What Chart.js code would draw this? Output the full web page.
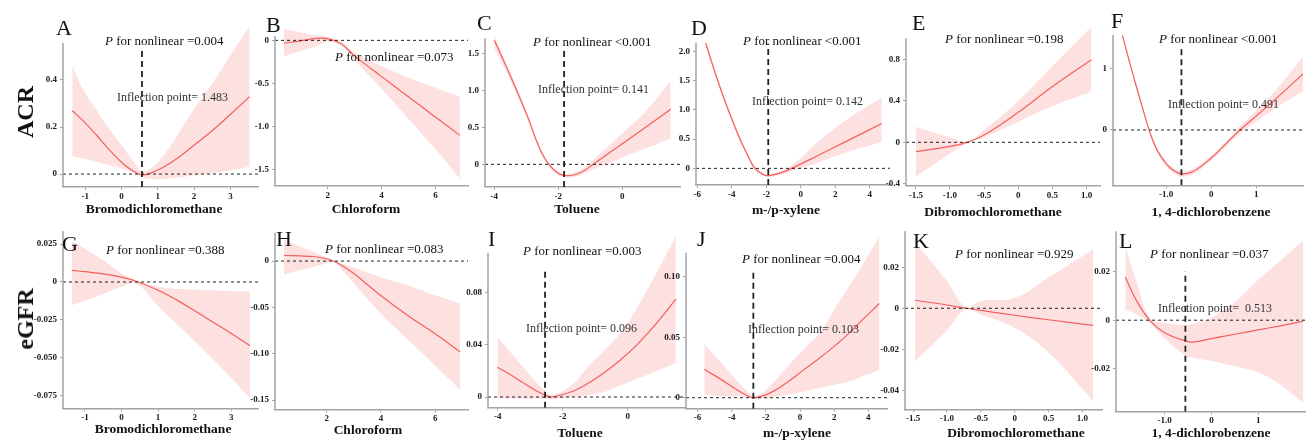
<!DOCTYPE html>
<html lang="en">
<head>
<meta charset="UTF-8">
<title>RCS curves for ACR and eGFR</title>
<style>
  body { margin: 0; background: #fff; width: 1313px; height: 442px; overflow: hidden; position: relative;
         font-family: "Liberation Serif", "Times New Roman", serif; }
  canvas { position: absolute; }
  .txt { position: absolute; white-space: nowrap; color: #111; line-height: 1; }
  .pval { font-size: 13px; }
  .infl { font-size: 12px; color: #333; }
  .letter { font-size: 22px; }
  .xtitle { font-size: 13.5px; font-weight: bold; transform: translateX(-50%); }
  .row { font-size: 24px; font-weight: bold; transform: translate(-50%, -50%) rotate(-90deg); }
</style>
</head>
<body>
<script src="https://cdn.jsdelivr.net/npm/chart.js"></script>
<script>
// ---- values ----
const A_x   = [-1.355, -1.06, -0.69, -0.33, 0.04, 0.32, 0.55, 0.78, 1.14, 1.6, 2.06, 2.52, 2.98, 3.53];
const A_fit = [0.269, 0.227, 0.166, 0.102, 0.045, 0.013, -0.003, 0.003, 0.028, 0.074, 0.13, 0.187, 0.251, 0.329];
const A_hi  = [0.46, 0.36, 0.272, 0.19, 0.115, 0.055, 0.012, 0.02, 0.075, 0.18, 0.29, 0.39, 0.5, 0.627];
const A_lo  = [0.077, 0.066, 0.052, 0.037, 0.022, 0.007, -0.012, -0.02, -0.022, -0.014, -0.005, 0.003, 0.015, 0.031];

const B_x   = [0.38, 1.0, 1.5, 2.0, 2.5, 3.0, 4.0, 5.0, 6.0, 6.9];
const B_fit = [-0.031, -0.005, 0.02, 0.02, -0.04, -0.18, -0.42, -0.655, -0.89, -1.1];
const B_hi  = [0.135, 0.092, 0.062, 0.04, -0.02, -0.14, -0.30, -0.43, -0.55, -0.65];
const B_lo  = [-0.185, -0.123, -0.077, -0.02, -0.06, -0.23, -0.56, -0.91, -1.26, -1.6];

const C_x   = [-4.0, -3.5, -3.0, -2.5, -2.1, -1.74, -1.3, -0.91, 0, 0.75, 1.51];
const C_fit = [1.68, 1.2, 0.69, 0.14, -0.09, -0.154, -0.11, 0.0, 0.28, 0.51, 0.747];
const C_hi  = [1.74, 1.25, 0.73, 0.17, -0.065, -0.13, -0.075, 0.06, 0.42, 0.73, 1.13];
const C_lo  = [1.58, 1.14, 0.645, 0.11, -0.115, -0.18, -0.145, -0.07, 0.09, 0.22, 0.35];

const D_x   = [-5.51, -4.81, -4.2, -3.52, -3.0, -2.65, -2.2, -1.88, -1.2, -0.52, 1, 2.5, 4.7];
const D_fit = [2.14, 1.5, 1.0, 0.5, 0.18, 0, -0.1, -0.125, -0.08, 0, 0.22, 0.44, 0.765];
const D_hi  = [2.2, 1.55, 1.04, 0.54, 0.21, 0.03, -0.075, -0.10, -0.05, 0.05, 0.45, 0.8, 1.21];
const D_lo  = [2.08, 1.45, 0.96, 0.46, 0.15, -0.03, -0.125, -0.155, -0.11, -0.05, 0.1, 0.26, 0.45];

const E_x   = [-1.5, -1.0, -0.75, -0.5, 0, 0.5, 1.07];
const E_fit = [-0.09, -0.04, 0, 0.07, 0.29, 0.54, 0.8];
const E_hi  = [0.151, 0.05, 0.01, 0.12, 0.4, 0.74, 1.12];
const E_lo  = [-0.333, -0.111, -0.01, 0.05, 0.2, 0.35, 0.49];

const F_x   = [-1.97, -1.8, -1.64, -1.5, -1.36, -1.2, -1.0, -0.84, -0.66, -0.4, -0.03, 0.34, 0.64, 1.16, 1.6, 2.04];
const F_fit = [1.55, 1.08, 0.66, 0.3, -0.04, -0.33, -0.55, -0.66, -0.72, -0.68, -0.48, -0.22, 0.0, 0.33, 0.62, 0.92];
const F_hi  = [1.58, 1.11, 0.69, 0.33, -0.01, -0.295, -0.51, -0.62, -0.675, -0.635, -0.44, -0.175, 0.06, 0.44, 0.8, 1.2];
const F_lo  = [1.52, 1.05, 0.63, 0.27, -0.07, -0.365, -0.59, -0.705, -0.765, -0.725, -0.52, -0.265, -0.06, 0.22, 0.44, 0.63];

const G_x   = [-1.36, -1, -0.5, 0, 0.4, 1, 1.5, 2, 2.5, 3, 3.51];
const G_fit = [0.0077, 0.0068, 0.0054, 0.0032, 0.0005, -0.0055, -0.0118, -0.019, -0.0265, -0.034, -0.042];
const G_hi  = [0.027, 0.022, 0.0143, 0.0057, 0.0008, -0.003, -0.0045, -0.005, -0.0055, -0.006, -0.0064];
const G_lo  = [-0.0152, -0.0123, -0.0079, -0.0031, -0.0012, -0.0158, -0.0275, -0.039, -0.051, -0.0635, -0.0763];

const H_x   = [0.42, 1, 1.5, 2, 2.24, 2.6, 3, 4, 5, 6, 6.92];
const H_fit = [0.006, 0.0055, 0.0049, 0.0025, 0, -0.0055, -0.0135, -0.0375, -0.059, -0.0785, -0.098];
const H_hi  = [0.0234, 0.016, 0.01, 0.0037, 0.0005, -0.003, -0.007, -0.0175, -0.0265, -0.037, -0.0457];
const H_lo  = [-0.0144, -0.01, -0.0063, -0.0025, -0.0005, -0.011, -0.024, -0.057, -0.085, -0.113, -0.139];

const I_x   = [-4.01, -3.68, -3.27, -2.86, -2.55, -2.35, -1.73, -1.22, -0.71, -0.2, 0.32, 0.9, 1.48];
const I_fit = [0.0228, 0.0182, 0.0117, 0.0054, 0.0015, 0.0, 0.004, 0.0105, 0.019, 0.029, 0.041, 0.057, 0.075];
const I_hi  = [0.0462, 0.0365, 0.0245, 0.0125, 0.005, 0.0015, 0.009, 0.0233, 0.036, 0.05, 0.07, 0.096, 0.1235];
const I_lo  = [-0.001, -0.0012, -0.0013, -0.0014, -0.0015, -0.0015, -0.0005, 0.0015, 0.004, 0.009, 0.0143, 0.02, 0.0263];

const J_x   = [-5.6, -4.72, -3.74, -3.16, -2.67, -1.8, -0.82, 0.16, 1.13, 2.1, 2.69, 3.7, 4.64];
const J_fit = [0.0235, 0.016, 0.007, 0.0022, 0, 0.0036, 0.012, 0.0224, 0.0326, 0.0437, 0.051, 0.065, 0.078];
const J_hi  = [0.0445, 0.0307, 0.0147, 0.0064, 0.001, 0.0091, 0.0243, 0.0395, 0.0533, 0.075, 0.088, 0.111, 0.133];
const J_lo  = [0.0022, 0.0015, 0.001, 0.0005, -0.0008, 0.0, 0.0022, 0.005, 0.008, 0.011, 0.0125, 0.018, 0.023];

const K_x   = [-1.474, -1, -0.72, -0.5, 0, 0.5, 1.16];
const K_fit = [0.0039, 0.0016, 0, -0.001, -0.0034, -0.0056, -0.0083];
const K_hi  = [0.0325, 0.0133, 0.0005, 0.0036, 0.005, 0.015, 0.0288];
const K_lo  = [-0.026, -0.0107, -0.0005, -0.003, -0.0095, -0.0216, -0.0452];

const L_x   = [-1.84, -1.6, -1.32, -1.0, -0.557, -0.39, 0, 0.5, 1.0, 1.5, 1.96];
const L_fit = [0.0177, 0.008, 0, -0.0052, -0.0085, -0.009, -0.0076, -0.0058, -0.004, -0.0022, -0.0004];
const L_hi  = [0.0304, 0.016, 0.001, -0.0011, -0.002, -0.0015, 0.001, 0.0075, 0.0167, 0.025, 0.0327];
const L_lo  = [0.0044, 0.0024, -0.001, -0.0075, -0.0145, -0.0155, -0.0168, -0.019, -0.0216, -0.027, -0.034];

// tick labels
const ticksX = {
  A: ['-1', '0', '1', '2', '3'], B: ['2', '4', '6'], C: ['-4', '-2', '0'],
  D: ['-6', '-4', '-2', '0', '2', '4'], E: ['-1.5', '-1.0', '-0.5', '0', '0.5', '1.0'], F: ['-1.0', '0', '1'],
  G: ['-1', '0', '1', '2', '3'], H: ['2', '4', '6'], I: ['-4', '-2', '0'],
  J: ['-6', '-4', '-2', '0', '2', '4'], K: ['-1.5', '-1.0', '-0.5', '0', '0.5', '1.0'], L: ['-1.0', '0', '1']
};
const ticksY = {
  A: ['0', '0.2', '0.4'], B: ['-1.5', '-1.0', '-0.5', '0'], C: ['0', '0.5', '1.0', '1.5'],
  D: ['0', '0.5', '1.0', '1.5', '2.0'], E: ['-0.4', '0', '0.4', '0.8'], F: ['0', '1'],
  G: ['-0.075', '-0.050', '-0.025', '0', '0.025'], H: ['-0.15', '-0.10', '-0.05', '0'], I: ['0', '0.04', '0.08'],
  J: ['0', '0.05', '0.10'], K: ['-0.04', '-0.02', '0', '0.02'], L: ['-0.02', '0', '0.02']
};

// p for nonlinear, inflection points (x of dashed line, label)
const pValues = { A: '=0.004', B: '=0.073', C: '<0.001', D: '<0.001', E: '=0.198', F: '<0.001',
                  G: '=0.388', H: '=0.083', I: '=0.003', J: '=0.004', K: '=0.929', L: '=0.037' };
const inflX = { A: 0.565, C: -1.82, D: -1.88, F: -0.66, I: -2.545, J: -2.73, L: -0.557 };
const inflTop = { A: 0.53, C: 1.59, D: 2.13, F: 1.39, I: 0.098, J: 0.1056, L: 0.0201 };
const inflLabel = { A: '1.483', C: '0.141', D: '0.142', F: '0.491', I: '0.096', J: '0.103', L: '\u00a00.513' };

const exposures = ['Bromodichloromethane', 'Chloroform', 'Toluene', 'm-/p-xylene', 'Dibromochloromethane', '1, 4-dichlorobenzene'];
const outcomes = ['ACR', 'eGFR'];

// ---- layout (pixel boxes of each plot: left, axis top, right, bottom) ----
const panels = [
  { id: 'A', x: A_x, fit: A_fit, hi: A_hi, lo: A_lo, box: [63, 43, 258, 187], xr: [-1.61, 3.76], yr: [-0.055, 0.557, 0.64],
    letter: [56, 16.5], ptxt: [105, 41], itxt: [117, 97], title: [154, 209] },
  { id: 'B', x: B_x, fit: B_fit, hi: B_hi, lo: B_lo, box: [275, 35.7, 468, 186], xr: [0.05, 7.2], yr: [-1.686, 0.05, 0.15],
    letter: [266, 13.5], ptxt: [335, 57], title: [366, 209] },
  { id: 'C', x: C_x, fit: C_fit, hi: C_hi, lo: C_lo, box: [485, 38, 680, 187], xr: [-4.29, 1.8], yr: [-0.307, 1.707, 1.76],
    letter: [477, 11.5], ptxt: [533, 42], itxt: [538, 89], title: [577, 209] },
  { id: 'D', x: D_x, fit: D_fit, hi: D_hi, lo: D_lo, box: [696, 42.7, 890, 185], xr: [-6.07, 5.18], yr: [-0.284, 2.14, 2.22],
    letter: [691, 16.5], ptxt: [743, 41], itxt: [752, 101], title: [786, 210] },
  { id: 'E', x: E_x, fit: E_fit, hi: E_hi, lo: E_lo, box: [906, 38.3, 1100, 186], xr: [-1.644, 1.196], yr: [-0.423, 1.007, 1.15],
    letter: [912, 11.5], ptxt: [945, 39], title: [993, 212] },
  { id: 'F', x: F_x, fit: F_fit, hi: F_hi, lo: F_lo, box: [1113, 35, 1303, 185.3], xr: [-2.18, 2.04], yr: [-0.907, 1.557, 1.6],
    letter: [1111, 9.5], ptxt: [1159, 39], itxt: [1168, 104], title: [1211, 212] },
  { id: 'G', x: G_x, fit: G_fit, hi: G_hi, lo: G_lo, box: [63, 231, 258, 408.3], xr: [-1.6, 3.73], yr: [-0.0833, 0.0336, 0.036],
    letter: [62, 232.5], ptxt: [106, 250], title: [163, 429] },
  { id: 'H', x: H_x, fit: H_fit, hi: H_hi, lo: H_lo, box: [275, 232.7, 468, 409.3], xr: [0.09, 7.21], yr: [-0.160, 0.0306, 0.032],
    letter: [276, 227.5], ptxt: [325, 249], title: [368, 430] },
  { id: 'I', x: I_x, fit: I_fit, hi: I_hi, lo: I_lo, box: [488, 252.7, 685, 407.7], xr: [-4.3, 1.76], yr: [-0.0082, 0.1107, 0.127],
    letter: [488, 227.5], ptxt: [523, 251], itxt: [526, 328], title: [580, 433] },
  { id: 'J', x: J_x, fit: J_fit, hi: J_hi, lo: J_lo, box: [686, 252.7, 887, 408.7], xr: [-6.67, 5.09], yr: [-0.0091, 0.12, 0.138],
    letter: [697, 227.5], ptxt: [742, 259], itxt: [748, 329], title: [797, 433] },
  { id: 'K', x: K_x, fit: K_fit, hi: K_hi, lo: K_lo, box: [905, 231, 1102, 409.3], xr: [-1.62, 1.29], yr: [-0.0493, 0.0377, 0.038],
    letter: [913, 229.5], ptxt: [955, 254], title: [1016, 433] },
  { id: 'L', x: L_x, fit: L_fit, hi: L_hi, lo: L_lo, box: [1116, 231, 1305, 411.7], xr: [-2.04, 2.0], yr: [-0.0377, 0.0366, 0.037],
    letter: [1119, 229.5], ptxt: [1150, 254], itxt: [1158, 308], title: [1211, 433] }
];

const LINE = '#f25f5c';
const BAND = '#fde1e1';
const AXIS = '#a3a3a3';
const TICK_FONT = { family: 'Liberation Serif', size: 9, weight: 'bold' };
const Y_W = 40, X_H = 20;
const SMOOTH = 0.4;

const pts = (xs, ys) => xs.map((x, i) => ({ x: x, y: ys[i] }));

// y axis line stops at the axis top, band may run above it
const yAxisLine = {
  id: 'yAxisLine',
  afterDraw(chart, args, opts) {
    const a = chart.chartArea, ctx = chart.ctx;
    ctx.save();
    ctx.strokeStyle = AXIS;
    ctx.lineWidth = 1.5;
    ctx.beginPath();
    ctx.moveTo(a.left, a.bottom);
    ctx.lineTo(a.left, chart.scales.y.getPixelForValue(opts.top));
    ctx.stroke();
    ctx.restore();
  }
};

function addText(cls, html, left, top) {
  const d = document.createElement('div');
  d.className = 'txt ' + cls;
  d.innerHTML = html;
  d.style.left = left + 'px';
  d.style.top = top + 'px';
  document.body.appendChild(d);
  return d;
}

panels.forEach((p, idx) => {
  const [L, Tax, R, B] = p.box;
  const [yMin, yAxisTop, yMax] = p.yr;
  const ppu = (B - Tax) / (yAxisTop - yMin);
  const T = B - (yMax - yMin) * ppu;

  const left = Math.floor(L) - Y_W;
  const top = Math.floor(T) - 8;
  const width = Math.ceil(R) + 10 - left;
  const height = Math.ceil(B + X_H) - top;

  const c = document.createElement('canvas');
  c.width = width; c.height = height;
  c.style.left = left + 'px'; c.style.top = top + 'px';
  c.style.width = width + 'px'; c.style.height = height + 'px';
  document.body.appendChild(c);

  const xt = ticksX[p.id], yt = ticksY[p.id];
  // datasets are painted last-to-first, so the band goes at the end
  const datasets = [
    { data: [{ x: p.xr[0], y: 0 }, { x: p.xr[1], y: 0 }], borderColor: '#222', borderWidth: 1, borderDash: [3, 3], pointRadius: 0, fill: false }
  ];
  if (inflX[p.id] !== undefined) {
    datasets.push({ data: [{ x: inflX[p.id], y: yMin }, { x: inflX[p.id], y: inflTop[p.id] }],
      borderColor: '#222', borderWidth: 1.8, borderDash: [6, 4], pointRadius: 0, fill: false });
  }
  datasets.push(
    { data: pts(p.x, p.fit), borderColor: LINE, borderWidth: 1.2, pointRadius: 0, fill: false, tension: SMOOTH },
    { data: pts(p.x, p.hi), borderWidth: 0, borderColor: 'rgba(0,0,0,0)', pointRadius: 0, fill: false, tension: SMOOTH },
    { data: pts(p.x, p.lo), borderWidth: 0, borderColor: 'rgba(0,0,0,0)', pointRadius: 0, fill: '-1', backgroundColor: BAND, tension: SMOOTH }
  );

  new Chart(c, {
    type: 'line',
    data: { datasets: datasets },
    plugins: [yAxisLine],
    options: {
      responsive: false,
      animation: false,
      devicePixelRatio: 1,
      layout: { padding: { left: L - Y_W - left, top: T - top, right: left + width - R, bottom: top + height - X_H - B } },
      plugins: { legend: { display: false }, tooltip: { enabled: false }, yAxisLine: { top: yAxisTop } },
      scales: {
        x: {
          type: 'linear', min: p.xr[0], max: p.xr[1],
          afterFit: s => { s.height = X_H; },
          afterBuildTicks: s => { s.ticks = xt.map(t => ({ value: Number(t) })); },
          ticks: { callback: (v, i) => xt[i], font: TICK_FONT, color: '#1a1a1a', padding: 1, maxRotation: 0, autoSkip: false },
          grid: { drawOnChartArea: false, tickLength: 3, color: AXIS },
          border: { color: AXIS, width: 1.5 }
        },
        y: {
          type: 'linear', min: yMin, max: yMax,
          afterFit: s => { s.width = Y_W; },
          afterBuildTicks: s => { s.ticks = yt.map(t => ({ value: Number(t) })); },
          ticks: { callback: (v, i) => yt[i], font: TICK_FONT, color: '#1a1a1a', padding: 3, autoSkip: false },
          grid: { drawOnChartArea: false, tickLength: 3, color: AXIS },
          border: { display: false }
        }
      }
    }
  });

  addText('letter', p.id, p.letter[0], p.letter[1]);
  addText('pval', '<i>P</i> for nonlinear ' + pValues[p.id], p.ptxt[0], p.ptxt[1] - 7);
  if (p.itxt) addText('infl', 'Inflection point= ' + inflLabel[p.id], p.itxt[0], p.itxt[1] - 6.5);
  addText('xtitle', exposures[idx % 6], p.title[0], p.title[1] - 7.5);
});

addText('row', outcomes[0], 25, 112);
addText('row', outcomes[1], 25, 319);
</script>
</body>
</html>
